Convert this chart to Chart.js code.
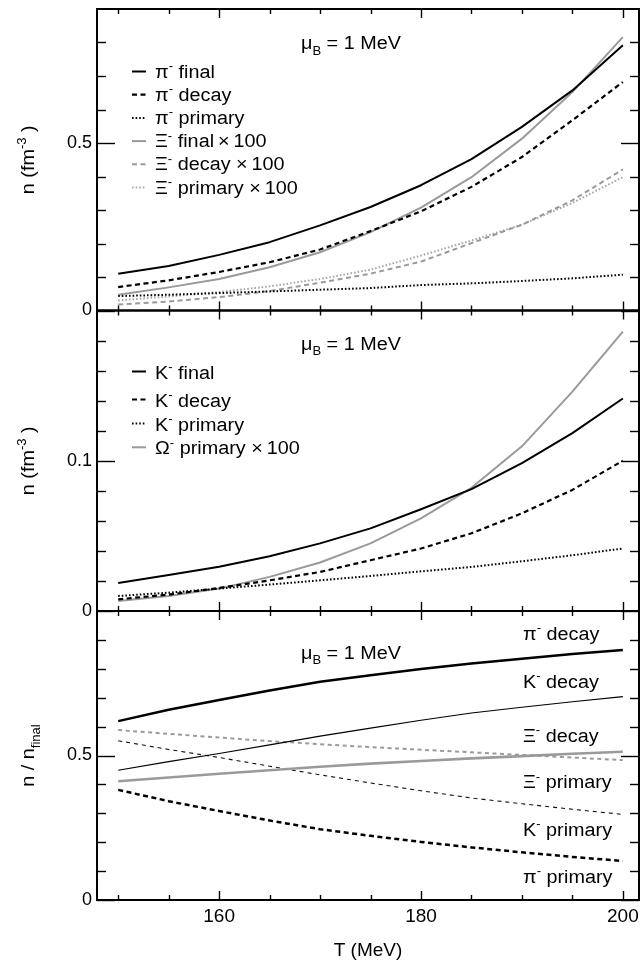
<!DOCTYPE html>
<html>
<head>
<meta charset="utf-8">
<script src="https://cdn.jsdelivr.net/npm/chart.js@4/dist/chart.umd.min.js"></script>
<style>
html,body{margin:0;padding:0;background:#fff;}
canvas{display:block;}
</style>
</head>
<body>
<canvas id="c" width="641" height="964"></canvas>
<script>
// ---------------- data ----------------
const T = [150,155,160,165,170,175,180,185,190,195,200];

// top panel: densities (fm^-3)
const piFinal      = [0.110,0.133,0.166,0.204,0.254,0.309,0.374,0.452,0.548,0.657,0.792];
const piDecay      = [0.070,0.090,0.115,0.144,0.182,0.237,0.296,0.369,0.458,0.568,0.682];
const piPrimary    = [0.043,0.047,0.052,0.057,0.062,0.067,0.076,0.081,0.088,0.096,0.107];
const xiFinal100   = [0.047,0.069,0.094,0.129,0.174,0.234,0.307,0.398,0.513,0.652,0.816];
const xiDecay100   = [0.018,0.027,0.040,0.058,0.083,0.110,0.146,0.201,0.256,0.329,0.421];
const xiPrimary100 = [0.030,0.042,0.055,0.072,0.094,0.122,0.164,0.209,0.256,0.321,0.398];

// middle panel: densities (fm^-3)
const kFinal          = [0.0187,0.0239,0.0294,0.0365,0.0450,0.0550,0.0677,0.0811,0.0984,0.1184,0.1414];
const kDecay          = [0.0078,0.0109,0.0153,0.0204,0.0260,0.0338,0.0416,0.0517,0.0650,0.0806,0.1000];
const kPrimary        = [0.0100,0.0122,0.0149,0.0176,0.0204,0.0233,0.0264,0.0293,0.0331,0.0371,0.0416];
const omegaPrimary100 = [0.0067,0.0100,0.0149,0.0227,0.0323,0.0450,0.0617,0.0820,0.1096,0.1460,0.1860];

// bottom panel: ratios n / n_final
const rPiDecay   = [0.619,0.658,0.692,0.725,0.755,0.778,0.799,0.818,0.835,0.851,0.865];
const rKDecay    = [0.449,0.479,0.507,0.537,0.567,0.595,0.622,0.647,0.667,0.686,0.704];
const rXiDecay   = [0.588,0.575,0.562,0.550,0.539,0.529,0.520,0.511,0.502,0.493,0.484];
const rXiPrimary = [0.411,0.424,0.437,0.449,0.461,0.472,0.481,0.490,0.498,0.506,0.513];
const rKPrimary  = [0.551,0.521,0.493,0.463,0.433,0.405,0.378,0.353,0.333,0.314,0.296];
const rPiPrimary = [0.381,0.342,0.308,0.275,0.245,0.222,0.201,0.182,0.165,0.149,0.135];

// ticks
const xLabelTicks = [160,180,200];
const xMinorTicks = [150,155,165,170,175,185,190,195];
const y1LabelTicks = [0,0.5];
const y1MinorTicks = [0.1,0.2,0.3,0.4,0.6,0.7,0.8];
const y2LabelTicks = [0,0.1];
const y2MinorTicks = [0.02,0.04,0.06,0.08,0.12,0.14,0.16,0.18];
const y3LabelTicks = [0,0.5];
const y3MinorTicks = [0.1,0.2,0.3,0.4,0.6,0.7,0.8,0.9];

// ---------------- styles ----------------
const FONT = '"Liberation Sans", Arial, Helvetica, sans-serif';
const BLACK = '#000000';
const GREY = '#9a9a9a';
const GREY_LIGHT = '#a8a8a8';
const DASH = [5, 3.5];
const DOT = [1.6, 2];

const S = {
  bSolid:   {c: BLACK, w: 2,   d: []},
  bDash:    {c: BLACK, w: 2.2, d: DASH},
  bDot:     {c: BLACK, w: 2,   d: DOT},
  gSolid:   {c: GREY,  w: 2,   d: []},
  gDash:    {c: GREY,  w: 2,   d: DASH},
  gDot:     {c: GREY_LIGHT, w: 2, d: DOT},
  bThick:   {c: BLACK, w: 2.5, d: []},
  bThickDash: {c: BLACK, w: 2.5, d: DASH},
  bThin:    {c: BLACK, w: 1.2, d: []},
  bThinDash:{c: '#111', w: 1.1, d: [4, 4]},
  gThick:   {c: GREY,  w: 2.6, d: []},
  gDashR:   {c: GREY,  w: 2,   d: [4, 3.5]},
};

function ds(label, values, axis, st) {
  return {
    label,
    data: T.map((t, i) => ({x: t, y: values[i]})),
    yAxisID: axis,
    borderColor: st.c,
    borderWidth: st.w,
    borderDash: st.d,
    borderCapStyle: 'butt',
    borderJoinStyle: 'round',
    pointRadius: 0,
    pointHoverRadius: 0,
    fill: false,
    tension: 0
  };
}

const datasets = [
  ds('pi final', piFinal, 'y1', S.bSolid),
  ds('pi decay', piDecay, 'y1', S.bDash),
  ds('pi primary', piPrimary, 'y1', S.bDot),
  ds('Xi final x100', xiFinal100, 'y1', S.gSolid),
  ds('Xi decay x100', xiDecay100, 'y1', S.gDash),
  ds('Xi primary x100', xiPrimary100, 'y1', S.gDot),

  ds('K final', kFinal, 'y2', S.bSolid),
  ds('K decay', kDecay, 'y2', S.bDash),
  ds('K primary', kPrimary, 'y2', S.bDot),
  ds('Omega primary x100', omegaPrimary100, 'y2', S.gSolid),

  ds('pi decay ratio', rPiDecay, 'y3', S.bThick),
  ds('K decay ratio', rKDecay, 'y3', S.bThin),
  ds('Xi decay ratio', rXiDecay, 'y3', S.gDashR),
  ds('Xi primary ratio', rXiPrimary, 'y3', S.gThick),
  ds('K primary ratio', rKPrimary, 'y3', S.bThinDash),
  ds('pi primary ratio', rPiPrimary, 'y3', S.bThickDash),
];

// ---------------- rich text helper ----------------
const TXT = 18;      // plugin text size
const SX = 1.1;      // horizontal widening of text
function drawRich(ctx, segs, size, align) {
  // segs: [text, kind] kind 0 normal, 1 sup, -1 sub ; drawn at (0,0) baseline
  const parts = segs.map(([t, k]) => {
    const fs = k ? size * 0.66 : size;
    ctx.font = fs + 'px ' + FONT;
    return {t, k, fs, w: ctx.measureText(t).width};
  });
  const total = parts.reduce((a, p) => a + p.w, 0);
  let cx = align === 'center' ? -total / 2 : 0;
  ctx.textAlign = 'left';
  ctx.textBaseline = 'alphabetic';
  ctx.fillStyle = '#000';
  for (const p of parts) {
    ctx.font = p.fs + 'px ' + FONT;
    const dy = p.k === 1 ? -0.42 * size : (p.k === -1 ? 0.32 * size : 0);
    ctx.fillText(p.t, cx, dy);
    cx += p.w;
  }
}
function richAt(ctx, x, y, segs, opts) {
  opts = opts || {};
  ctx.save();
  ctx.translate(x, y);
  if (opts.rotate) ctx.rotate(opts.rotate);
  ctx.scale(SX, 1);
  drawRich(ctx, segs, opts.size || TXT, opts.align || 'left');
  ctx.restore();
}
function sample(ctx, x1, x2, y, st) {
  ctx.save();
  ctx.strokeStyle = st.c;
  ctx.lineWidth = st.w;
  ctx.setLineDash(st.d);
  ctx.lineCap = 'butt';
  ctx.beginPath();
  ctx.moveTo(x1, y);
  ctx.lineTo(x2, y);
  ctx.stroke();
  ctx.restore();
}

const SUPM = ['-', 1];
const legend1 = [
  {st: S.bSolid, segs: [['π',0], SUPM, [' final',0]]},
  {st: S.bDash,  segs: [['π',0], SUPM, [' decay',0]]},
  {st: S.bDot,   segs: [['π',0], SUPM, [' primary',0]]},
  {st: S.gSolid, segs: [['Ξ',0], SUPM, [' final\u2009×\u2009100',0]]},
  {st: S.gDash,  segs: [['Ξ',0], SUPM, [' decay \u00d7\u2009100',0]]},
  {st: S.gDot,   segs: [['Ξ',0], SUPM, [' primary \u00d7\u2009100',0]]},
];
const legend1Base = [77.5, 100.7, 123.9, 147.1, 170.3, 193.5];
const legend2 = [
  {st: S.bSolid, segs: [['K',0], SUPM, [' final',0]]},
  {st: S.bDash,  segs: [['K',0], SUPM, [' decay',0]]},
  {st: S.bDot,   segs: [['K',0], SUPM, [' primary',0]]},
  {st: S.gSolid, segs: [['Ω',0], SUPM, [' primary \u00d7\u2009100',0]]},
];
const legend2Base = [378.5, 406.5, 430.5, 454.3];
const rightLabels = [
  [['π',0], SUPM, [' decay',0]],
  [['K',0], SUPM, [' decay',0]],
  [['Ξ',0], SUPM, [' decay',0]],
  [['Ξ',0], SUPM, [' primary',0]],
  [['K',0], SUPM, [' primary',0]],
  [['π',0], SUPM, [' primary',0]],
];
const rightBase = [640, 688, 741.7, 788.3, 835.5, 882.5];
const muLabel = [['μ',0], ['B',-1], [' = 1 MeV',0]];
const muBase = [49, 349.5, 658.5];

const decor = {
  id: 'decor',
  afterDatasetsDraw(chart) {
    const ctx = chart.ctx;
    const xs = chart.scales.x;
    const L = chart.chartArea.left, R = chart.chartArea.right;
    const panels = [
      {s: chart.scales.y1, lab: y1LabelTicks, min: y1MinorTicks},
      {s: chart.scales.y2, lab: y2LabelTicks, min: y2MinorTicks},
      {s: chart.scales.y3, lab: y3LabelTicks, min: y3MinorTicks},
    ];
    ctx.save();
    ctx.strokeStyle = '#000';
    ctx.lineWidth = 1.4;
    ctx.setLineDash([]);
    const seg = (x1, y1, x2, y2) => { ctx.beginPath(); ctx.moveTo(x1, y1); ctx.lineTo(x2, y2); ctx.stroke(); };
    for (const p of panels) {
      const top = p.s.top, bot = p.s.bottom;
      for (const v of xLabelTicks.concat(xMinorTicks)) {
        const px = Math.round(xs.getPixelForValue(v)) + 0.5;
        const len = xLabelTicks.includes(v) ? 9 : 5;
        seg(px, bot, px, bot - len);
        seg(px, top, px, top + len);
      }
      for (const v of p.lab.concat(p.min)) {
        const py = Math.round(p.s.getPixelForValue(v)) + 0.5;
        const len = p.lab.includes(v) ? 18 : 9;
        seg(L, py, L + len, py);
        seg(R, py, R - len, py);
      }
    }
    // frames
    ctx.lineWidth = 2;
    for (const p of panels) {
      ctx.strokeRect(L, p.s.top, R - L, p.s.bottom - p.s.top);
    }
    ctx.restore();

    // legends
    ctx.save();
    legend1.forEach((e, i) => {
      sample(ctx, 132, 146, legend1Base[i] - 6, e.st);
      richAt(ctx, 155, legend1Base[i], e.segs);
    });
    legend2.forEach((e, i) => {
      sample(ctx, 132, 146, legend2Base[i] - 7, e.st);
      richAt(ctx, 155, legend2Base[i], e.segs);
    });
    rightLabels.forEach((segs, i) => richAt(ctx, 523, rightBase[i], segs));
    muBase.forEach(b => richAt(ctx, 301, b, muLabel));

    // y titles
    const c1 = (chart.scales.y1.top + chart.scales.y1.bottom) / 2;
    const c2 = (chart.scales.y2.top + chart.scales.y2.bottom) / 2;
    const c3 = (chart.scales.y3.top + chart.scales.y3.bottom) / 2;
    const yTitle = [['n (fm',0], ['-3',1], [' )',0]];
    richAt(ctx, 34, c1, yTitle, {rotate: -Math.PI/2, align: 'center'});
    richAt(ctx, 34, c2, yTitle, {rotate: -Math.PI/2, align: 'center'});
    richAt(ctx, 34, c3, [['n / n',0], ['final',-1]], {rotate: -Math.PI/2, align: 'center'});
    ctx.restore();
  }
};

function yAxis(min, max, weight, labels) {
  return {
    type: 'linear',
    position: 'left',
    stack: 'panels',
    stackWeight: weight,
    min, max,
    afterBuildTicks: s => { s.ticks = labels.map(v => ({value: v})); },
    afterFit: s => { s.width = 97; s.paddingTop = 0; s.paddingBottom = 0; },
    grid: {display: false, drawTicks: false},
    border: {display: false},
    ticks: {
      color: '#000',
      font: {family: FONT, size: 18},
      padding: 5,
      autoSkip: false,
      callback: v => String(v)
    }
  };
}

new Chart(document.getElementById('c'), {
  type: 'line',
  data: {datasets},
  plugins: [decor],
  options: {
    responsive: false,
    devicePixelRatio: 1,
    animation: false,
    events: [],
    layout: {padding: {left: 0, right: 2, top: 9, bottom: 0}},
    plugins: {legend: {display: false}, tooltip: {enabled: false}, title: {display: false}},
    scales: {
      x: {
        type: 'linear',
        position: 'bottom',
        min: 147.9,
        max: 201.6,
        afterBuildTicks: s => { s.ticks = xLabelTicks.map(v => ({value: v})); },
        afterFit: s => { s.height = 64; s.paddingLeft = 0; s.paddingRight = 0; },
        grid: {display: false, drawTicks: false},
        border: {display: false},
        ticks: {
          color: '#000',
          font: {family: FONT, size: 19},
          padding: 5,
          maxRotation: 0,
          autoSkip: false,
          callback: v => String(v)
        },
        title: {
          display: true,
          text: 'T (MeV)',
          color: '#000',
          font: {family: FONT, size: 19},
          padding: {top: 0, bottom: 2}
        }
      },
      y3: yAxis(0, 1, 289, y3LabelTicks),
      y2: yAxis(0, 0.2, 300.5, y2LabelTicks),
      y1: yAxis(0, 0.9, 301.5, y1LabelTicks)
    }
  }
});
</script>
</body>
</html>
